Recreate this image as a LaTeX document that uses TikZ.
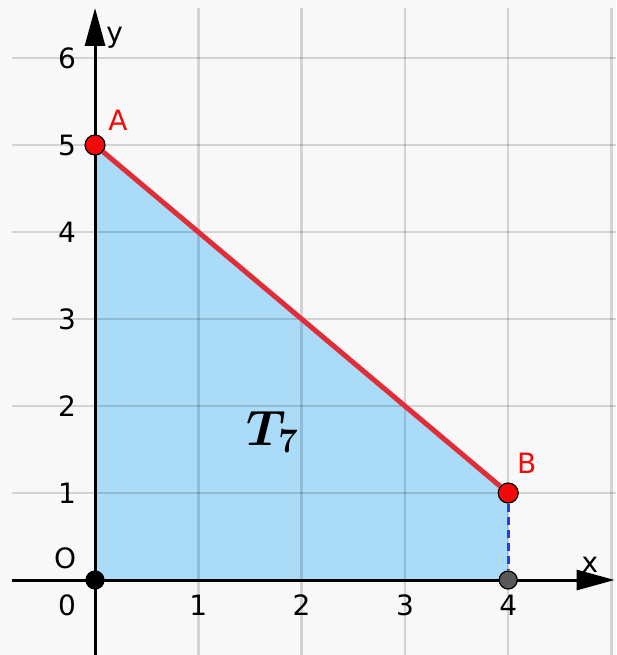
\documentclass[tikz,border=0pt]{standalone}
\usepackage{amsmath}
\usepackage{fontspec}
\usepackage{xcolor}
\usetikzlibrary{arrows.meta}

\newfontfamily\labelfont{DejaVu Sans}
\definecolor{regionblue}{RGB}{170,220,250}
\definecolor{segred}{RGB}{225,45,55}
\definecolor{ptred}{RGB}{240,10,10}
\definecolor{paper}{RGB}{248,248,248}
\definecolor{dashblue}{RGB}{40,60,230}

\begin{document}
\begin{tikzpicture}[x=51.65pt, y=43.5pt,
      gridline/.style={line width=1.2pt, black, draw opacity=0.15},
      axis/.style={line width=1.5pt, -{Triangle[length=19pt,width=10pt]}},
      dot/.style={circle, draw, line width=0.6pt, inner sep=0pt, minimum size=10pt},
      lbl/.style={font=\labelfont\fontsize{14}{16}\selectfont},
      ptlbl/.style={lbl, text=ptred}]
    % page and margins
    \fill[paper] (-0.920,-0.862) rectangle (5.044,6.667);
    \useasboundingbox (-0.920,-0.862) rectangle (5.044,6.667);
    \coordinate (pO) at (0,0);
    \coordinate (pA) at (0,5);
    \coordinate (pB) at (4,1);
    \coordinate (pP) at (4,0);
    \fill[regionblue] (pO) -- (pA) -- (pB) -- (pP) -- cycle;
    % grid
    \foreach \i in {1,...,5}
      \draw[gridline] (\i,-0.862) -- (\i,6.575);
    \foreach \j in {1,...,6}
      \draw[gridline] (-0.80,\j) -- (5.044,\j);
    % axes
    \coordinate (xs) at (-0.80,0);
    \coordinate (xe) at (5.03,0);
    \coordinate (ys) at (0,-0.862);
    \coordinate (ye) at (0,6.575);
    \draw[axis] (xs) -- (xe);
    \draw[axis] (ys) -- (ye);
    % points
    \node[dot, fill=ptred] (A) at (pA) {};
    \node[dot, fill=ptred] (B) at (pB) {};
    \node[dot, fill=black, minimum size=9pt] (O) at (pO) {};
    \node[dot, fill=black!65, minimum size=9pt] (P) at (pP) {};
    \draw[segred, line width=2.5pt] (A) -- (B);
    \draw[dashblue, line width=1.5pt, dash pattern=on 4pt off 2.5pt] (B) -- (P);
    % labels
    \node[ptlbl] (labA) at (0.223,5.287) {A};
    \node[ptlbl] (labB) at (4.18,1.345) {B};
    \node[lbl] (labO) at (-0.29,0.253) {O};
    \node[lbl] (labx) at (4.79,0.18) {x};
    \node[lbl] (laby) at (0.19,6.236) {y};
    \node[lbl] (tx0) at (-0.27,-0.287) {0};
    \node[lbl] (tx1) at (1,-0.287) {1};
    \node[lbl] (tx2) at (2,-0.287) {2};
    \node[lbl] (tx3) at (3,-0.287) {3};
    \node[lbl] (tx4) at (4,-0.287) {4};
    \node[lbl] (ty1) at (-0.27,1) {1};
    \node[lbl] (ty2) at (-0.27,2) {2};
    \node[lbl] (ty3) at (-0.27,3) {3};
    \node[lbl] (ty4) at (-0.27,4) {4};
    \node[lbl] (ty5) at (-0.27,5) {5};
    \node[lbl] (ty6) at (-0.27,6) {6};
    \node (region) at (1.72,1.70) {\fontsize{25}{30}\selectfont$\boldsymbol{T_7}$};
  \end{tikzpicture}
\end{document}
